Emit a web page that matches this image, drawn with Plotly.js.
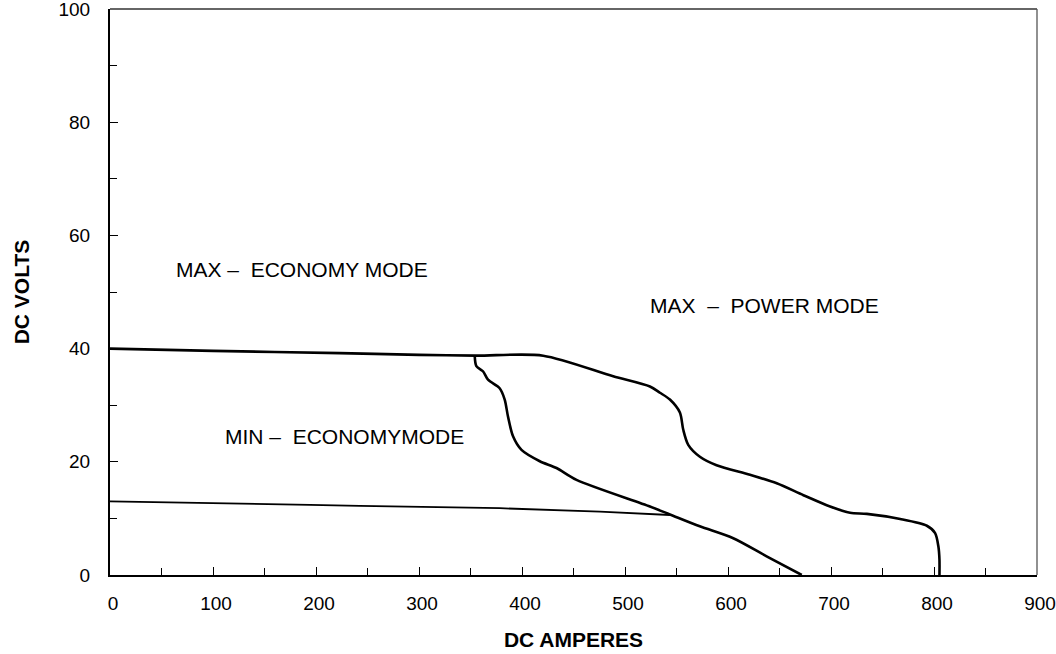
<!DOCTYPE html>
<html>
<head>
<meta charset="utf-8">
<script src="https://cdn.plot.ly/plotly-3.0.1.min.js"></script>
<style>
html,body{margin:0;padding:0;background:#fff;}
#chart{width:1056px;height:654px;}
</style>
</head>
<body>
<div id="chart"></div>
<script>
// Max - power mode curve (shares the flat 40 V part)
const powerAmps  = [0, 100, 223, 300, 355, 420.6, 488.5, 524.2, 533.9, 543.6, 553.3, 556.5, 561.4, 572.7, 588.9, 621.3, 647.3, 673.2, 699.1, 718.5, 734.8, 767.2, 793.1, 801.1, 804.3, 805.3, 805.3];
const powerVolts = [40.0, 39.6, 39.2, 38.9, 38.75, 38.75, 35.1, 33.3, 32.2, 31.0, 28.7, 25.7, 23.0, 20.9, 19.4, 17.7, 16.2, 14.1, 12.1, 11.0, 10.8, 9.9, 8.7, 7.4, 5.0, 2.7, 0];

// Max - economy mode branch
const econAmps  = [354.1, 355.7, 362.1, 367.0, 378.3, 383.2, 386.4, 391.3, 399.5, 417.3, 433.5, 452.9, 524.2, 543.6, 572.6, 605.1, 637.5, 671.6];
const econVolts = [38.75, 36.9, 36.0, 34.5, 33.0, 31.0, 28.0, 24.5, 22.1, 20.1, 18.9, 16.8, 12.1, 10.7, 8.6, 6.5, 3.3, 0];

// Min - economy mode line
const minAmps  = [0, 145.1, 194.0, 242.4, 378.4, 475.6, 543.6];
const minVolts = [13.0, 12.6, 12.4, 12.2, 11.8, 11.2, 10.6];

const xTicks = [0, 100, 200, 300, 400, 500, 600, 700, 800, 900];
const yTicks = [0, 20, 40, 60, 80, 100];

const labelText = ["MAX\u00a0\u2013\u00a0\u00a0ECONOMY MODE", "MAX\u00a0\u00a0\u2013\u00a0\u00a0POWER MODE", "MIN\u00a0\u2013\u00a0\u00a0ECONOMYMODE"];
const labelX = [186.4, 635.9, 227.7];
const labelY = [53.95, 47.6, 24.4];

const FONT = "Liberation Sans, Arial, Helvetica, sans-serif";

const traces = [
  {x: powerAmps, y: powerVolts, mode: "lines", line: {color: "#000", width: 2.6, shape: "spline", smoothing: 0.8}, hoverinfo: "skip"},
  {x: econAmps, y: econVolts, mode: "lines", line: {color: "#000", width: 2.6, shape: "spline", smoothing: 0.8}, hoverinfo: "skip"},
  {x: minAmps, y: minVolts, mode: "lines", line: {color: "#000", width: 1.8}, hoverinfo: "skip"}
];

const annotations = labelText.map((t, i) => ({
  x: labelX[i], y: labelY[i], xref: "x", yref: "y", text: t, showarrow: false,
  font: {family: FONT, size: 21, color: "#000"}, xanchor: "center", yanchor: "middle"
}));

const layout = {
  width: 1056, height: 654,
  margin: {l: 110, r: 19, t: 9, b: 79},
  paper_bgcolor: "#fff", plot_bgcolor: "#fff",
  showlegend: false,
  font: {family: FONT, color: "#000"},
  xaxis: {
    range: [0, 900], tickvals: xTicks, ticktext: xTicks.map(String),
    ticks: "inside", ticklen: 8, tickwidth: 1, tickcolor: "#000",
    minor: {dtick: 50, tick0: 0, ticks: "inside", ticklen: 7, tickwidth: 1, tickcolor: "#000"},
    showline: true, linecolor: "#000", linewidth: 2, showgrid: false, zeroline: false,
    tickfont: {family: FONT, size: 19, color: "#000"},
    ticklabelstandoff: 10, ticklabelshift: 3, ticklabeloverflow: "allow",
    title: {text: "<b>DC AMPERES</b>", font: {family: FONT, size: 21, color: "#000"}, standoff: 20}
  },
  yaxis: {
    range: [0, 100], tickvals: yTicks, ticktext: yTicks.map(String),
    ticks: "inside", ticklen: 8, tickwidth: 1, tickcolor: "#000",
    minor: {dtick: 10, tick0: 0, ticks: "inside", ticklen: 7, tickwidth: 1, tickcolor: "#000"},
    showline: true, linecolor: "#000", linewidth: 2, showgrid: false, zeroline: false,
    tickfont: {family: FONT, size: 19, color: "#000"},
    ticklabelstandoff: 14, ticklabeloverflow: "allow",
    title: {text: "<b>DC VOLTS</b>", font: {family: FONT, size: 21, color: "#000"}, standoff: 23}
  },
  shapes: [
    {type: "line", xref: "paper", yref: "paper", x0: 0, x1: 1, y0: 1, y1: 1, line: {color: "#333", width: 1.3}},
    {type: "line", xref: "paper", yref: "paper", x0: 1, x1: 1, y0: 0, y1: 1, line: {color: "#555", width: 1.3}}
  ],
  annotations: annotations
};

Plotly.newPlot("chart", traces, layout, {displayModeBar: false, staticPlot: true});
</script>
</body>
</html>
